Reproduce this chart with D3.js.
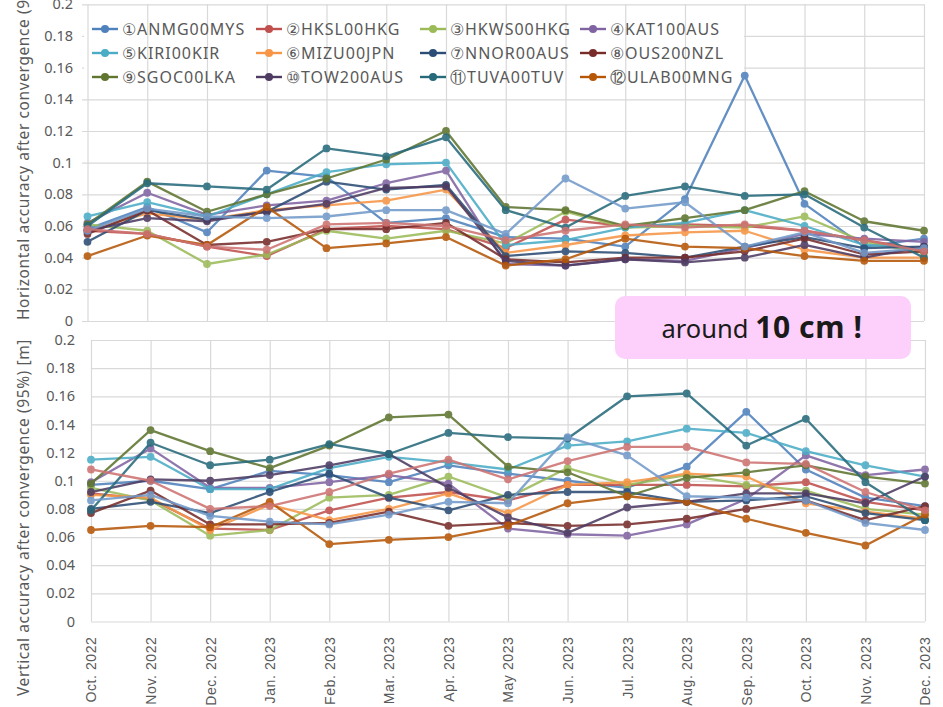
<!DOCTYPE html>
<html>
<head>
<meta charset="utf-8">
<script src="https://cdn.jsdelivr.net/npm/d3@7"></script>
<style>
  html, body { margin: 0; padding: 0; background: #fff; }
  svg { display: block; font-family: "Noto Sans", "Open Sans", sans-serif; }
</style>
</head>
<body>
<svg id="chart" width="943" height="707"></svg>
<script>
// ---- categories & ticks ----
const months = ["Oct. 2022", "Nov. 2022", "Dec. 2022", "Jan. 2023", "Feb. 2023", "Mar. 2023", "Apr. 2023",
                "May 2023", "Jun. 2023", "Jul. 2023", "Aug. 2023", "Sep. 2023", "Oct. 2023", "Nov. 2023", "Dec. 2023"];
const yTicks = [0, 0.02, 0.04, 0.06, 0.08, 0.1, 0.12, 0.14, 0.16, 0.18, 0.2];

// ---- stations (legend shows the first twelve; two more are plotted without entries) ----
const stationLabels = ["①ANMG00MYS", "②HKSL00HKG", "③HKWS00HKG", "④KAT100AUS",
                       "⑤KIRI00KIR", "⑥MIZU00JPN", "⑦NNOR00AUS", "⑧OUS200NZL",
                       "⑨SGOC00LKA", "⑩TOW200AUS", "⑪TUVA00TUV", "⑫ULAB00MNG", null, null];
const stationColors = ["#4F81BD", "#C0504D", "#9BBB59", "#8064A2", "#4BACC6", "#F79646",
                       "#2C4D75", "#772C2A", "#5F7530", "#4D3B62", "#276A7C", "#B65708",
                       "#729ACA", "#CD7371"];

// ---- horizontal accuracy after convergence (95%) [m] ----
const H_ANMG00MYS = [0.058, 0.072, 0.056, 0.095, 0.091, 0.062, 0.065, 0.053, 0.052, 0.047, 0.077, 0.155, 0.074, 0.047, 0.052];
const H_HKSL00HKG = [0.057, 0.055, 0.047, 0.041, 0.058, 0.060, 0.058, 0.046, 0.064, 0.060, 0.061, 0.060, 0.057, 0.051, 0.045];
const H_HKWS00HKG = [0.061, 0.057, 0.036, 0.042, 0.057, 0.052, 0.057, 0.049, 0.069, 0.059, 0.060, 0.059, 0.066, 0.050, 0.043];
const H_KAT100AUS = [0.062, 0.081, 0.067, 0.073, 0.076, 0.087, 0.095, 0.036, 0.035, 0.039, 0.038, 0.046, 0.055, 0.052, 0.050];
const H_KIRI00KIR = [0.066, 0.075, 0.066, 0.080, 0.094, 0.099, 0.100, 0.048, 0.051, 0.059, 0.062, 0.070, 0.060, 0.048, 0.046];
const H_MIZU00JPN = [0.057, 0.068, 0.064, 0.070, 0.073, 0.076, 0.083, 0.043, 0.048, 0.054, 0.056, 0.057, 0.045, 0.040, 0.040];
const H_NNOR00AUS = [0.050, 0.070, 0.064, 0.069, 0.088, 0.083, 0.086, 0.041, 0.044, 0.043, 0.040, 0.047, 0.053, 0.046, 0.047];
const H_OUS200NZL = [0.055, 0.070, 0.048, 0.050, 0.058, 0.058, 0.062, 0.039, 0.037, 0.040, 0.040, 0.044, 0.052, 0.042, 0.044];
const H_SGOC00LKA = [0.061, 0.088, 0.069, 0.080, 0.090, 0.102, 0.120, 0.072, 0.070, 0.060, 0.065, 0.070, 0.082, 0.063, 0.057];
const H_TOW200AUS = [0.057, 0.065, 0.063, 0.069, 0.074, 0.084, 0.085, 0.038, 0.035, 0.039, 0.037, 0.040, 0.048, 0.040, 0.047];
const H_TUVA00TUV = [0.060, 0.087, 0.085, 0.083, 0.109, 0.104, 0.116, 0.070, 0.059, 0.079, 0.085, 0.079, 0.080, 0.059, 0.040];
const H_ULAB00MNG = [0.041, 0.054, 0.048, 0.072, 0.046, 0.049, 0.053, 0.035, 0.039, 0.052, 0.047, 0.046, 0.041, 0.038, 0.038];
const H_S13       = [0.057, 0.071, 0.066, 0.065, 0.066, 0.070, 0.070, 0.055, 0.090, 0.071, 0.075, 0.047, 0.056, 0.043, 0.046];
const H_S14       = [0.058, 0.055, 0.047, 0.045, 0.061, 0.062, 0.060, 0.051, 0.057, 0.061, 0.059, 0.061, 0.057, 0.051, 0.044];

// ---- vertical accuracy after convergence (95%) [m] ----
const V_ANMG00MYS = [0.097, 0.100, 0.094, 0.107, 0.104, 0.099, 0.111, 0.105, 0.100, 0.095, 0.110, 0.149, 0.108, 0.088, 0.082];
const V_HKSL00HKG = [0.091, 0.087, 0.066, 0.065, 0.079, 0.088, 0.092, 0.086, 0.097, 0.097, 0.097, 0.096, 0.099, 0.085, 0.079];
const V_HKWS00HKG = [0.095, 0.086, 0.061, 0.065, 0.088, 0.090, 0.103, 0.088, 0.109, 0.097, 0.104, 0.097, 0.093, 0.080, 0.076];
const V_KAT100AUS = [0.099, 0.123, 0.095, 0.095, 0.099, 0.104, 0.098, 0.066, 0.062, 0.061, 0.069, 0.087, 0.118, 0.104, 0.108];
const V_KIRI00KIR = [0.115, 0.117, 0.094, 0.094, 0.109, 0.117, 0.113, 0.108, 0.125, 0.128, 0.137, 0.134, 0.121, 0.111, 0.103];
const V_MIZU00JPN = [0.090, 0.088, 0.065, 0.083, 0.072, 0.080, 0.091, 0.077, 0.097, 0.099, 0.105, 0.103, 0.084, 0.078, 0.073];
const V_NNOR00AUS = [0.080, 0.085, 0.077, 0.092, 0.105, 0.088, 0.079, 0.090, 0.092, 0.092, 0.085, 0.086, 0.089, 0.077, 0.072];
const V_OUS200NZL = [0.077, 0.093, 0.069, 0.069, 0.070, 0.078, 0.068, 0.070, 0.068, 0.069, 0.073, 0.080, 0.086, 0.072, 0.082];
const V_SGOC00LKA = [0.098, 0.136, 0.121, 0.109, 0.125, 0.145, 0.147, 0.110, 0.106, 0.089, 0.102, 0.106, 0.111, 0.103, 0.098];
const V_TOW200AUS = [0.092, 0.101, 0.100, 0.104, 0.111, 0.119, 0.095, 0.074, 0.063, 0.081, 0.085, 0.091, 0.091, 0.084, 0.103];
const V_TUVA00TUV = [0.079, 0.127, 0.111, 0.115, 0.126, 0.119, 0.134, 0.131, 0.130, 0.160, 0.162, 0.125, 0.144, 0.099, 0.072];
const V_ULAB00MNG = [0.065, 0.068, 0.067, 0.085, 0.055, 0.058, 0.060, 0.068, 0.084, 0.089, 0.085, 0.073, 0.063, 0.054, 0.076];
const V_S13       = [0.086, 0.090, 0.075, 0.071, 0.069, 0.076, 0.085, 0.084, 0.131, 0.118, 0.089, 0.088, 0.086, 0.070, 0.065];
const V_S14       = [0.108, 0.100, 0.080, 0.082, 0.092, 0.105, 0.115, 0.101, 0.114, 0.124, 0.124, 0.113, 0.112, 0.092, 0.079];

const horizontalRows = [H_ANMG00MYS, H_HKSL00HKG, H_HKWS00HKG, H_KAT100AUS, H_KIRI00KIR, H_MIZU00JPN, H_NNOR00AUS,
                        H_OUS200NZL, H_SGOC00LKA, H_TOW200AUS, H_TUVA00TUV, H_ULAB00MNG, H_S13, H_S14];
const verticalRows   = [V_ANMG00MYS, V_HKSL00HKG, V_HKWS00HKG, V_KAT100AUS, V_KIRI00KIR, V_MIZU00JPN, V_NNOR00AUS,
                        V_OUS200NZL, V_SGOC00LKA, V_TOW200AUS, V_TUVA00TUV, V_ULAB00MNG, V_S13, V_S14];

// ---- drawing ----
const svg = d3.select("#chart");
const GRID = "#d9d9d9", INK = "#595959";

const topX = d3.scalePoint().domain(months).range([87.5, 924]);
const topY = d3.scaleLinear().domain([0, 0.2]).range([321, 4.3]);
const botX = d3.scalePoint().domain(months).range([91, 925]);
const botY = d3.scaleLinear().domain([0, 0.2]).range([621.5, 340]);

const fmt = d => String(+d.toFixed(2));

function drawHGrid(g, x, y, left) {
  g.append("g")
    .attr("transform", `translate(${left},0)`)
    .call(d3.axisLeft(y).tickValues(yTicks).tickSize(-(x.range()[1] - left)).tickFormat(""))
    .call(s => s.select(".domain").remove())
    .call(s => s.selectAll("line").attr("stroke", GRID).attr("stroke-width", 1.2));
}
function drawVGrid(g, x, y) {
  g.append("g")
    .attr("transform", `translate(0,${y(0)})`)
    .call(d3.axisBottom(x).tickSize(-(y(0) - y(0.2))).tickFormat(""))
    .call(s => s.select(".domain").remove())
    .call(s => s.selectAll("line").attr("stroke", GRID).attr("stroke-width", 1.2));
}
function drawYLabels(g, y, right) {
  g.append("g")
    .attr("transform", `translate(${right},0)`)
    .call(d3.axisLeft(y).tickValues(yTicks).tickSize(0).tickPadding(0).tickFormat(fmt))
    .call(s => s.select(".domain").remove())
    .call(s => s.selectAll("text").attr("fill", INK).attr("font-size", 14.5)
      .attr("font-family", "'Noto Sans', sans-serif"));
}
function drawSeries(g, x, y, rows) {
  const line = d3.line().x((d, i) => x(months[i])).y(d => y(d));
  rows.forEach((row, k) => {
    const s = g.append("g").attr("opacity", 0.88);
    s.append("path").attr("d", line(row)).attr("fill", "none")
      .attr("stroke", stationColors[k]).attr("stroke-width", 2.3).attr("stroke-linejoin", "round");
    s.selectAll("circle").data(row).join("circle")
      .attr("cx", (d, i) => x(months[i])).attr("cy", d => y(d)).attr("r", 3.9)
      .attr("fill", stationColors[k]);
  });
}

// top panel: horizontal accuracy
const gTop = svg.append("g");
drawHGrid(gTop, topX, topY, 82);
gTop.append("rect").attr("x", 84).attr("y", 13).attr("width", 660).attr("height", 80).attr("fill", "#fff");
drawVGrid(gTop, topX, topY);
drawYLabels(gTop, topY, 73);
drawSeries(gTop, topX, topY, horizontalRows);

// legend (3 rows x 4 columns)
const legendCols = [92, 256, 420, 580];
const legendRows = [29, 53, 77];
const gLeg = svg.append("g");
stationLabels.forEach((label, k) => {
  if (!label) return;
  const cx = legendCols[k % 4], cy = legendRows[Math.floor(k / 4)];
  const item = gLeg.append("g").attr("transform", `translate(${cx},${cy})`);
  item.append("line").attr("x1", 0).attr("x2", 26).attr("stroke", stationColors[k]).attr("stroke-width", 2.4);
  item.append("circle").attr("cx", 13).attr("r", 4).attr("fill", stationColors[k]);
  item.append("text").attr("x", 30).attr("dy", "0.35em").attr("fill", INK)
    .attr("font-size", 16).attr("letter-spacing", 1).text(label);
});

// bottom panel: vertical accuracy
const gBot = svg.append("g");
drawHGrid(gBot, botX, botY, 91);
drawVGrid(gBot, botX, botY);
drawYLabels(gBot, botY, 75);
drawSeries(gBot, botX, botY, verticalRows);

// month labels under the bottom panel
gBot.append("g")
  .attr("transform", `translate(0,${botY(0)})`)
  .call(d3.axisBottom(botX).tickSize(0))
  .call(s => s.select(".domain").remove())
  .call(s => s.selectAll("text")
    .attr("transform", "rotate(-90)").attr("text-anchor", "end")
    .attr("x", -15).attr("y", 0).attr("dy", "0.35em")
    .attr("fill", INK).attr("font-size", 14).attr("letter-spacing", 0.6));

// axis titles
svg.append("text").attr("transform", "translate(29,320) rotate(-90)")
  .attr("text-anchor", "start").attr("fill", INK).attr("font-size", 15.5).attr("letter-spacing", 0.6)
  .text("Horizontal accuracy after convergence (95%) [m]");
svg.append("text").attr("transform", "translate(29,339) rotate(-90)")
  .attr("text-anchor", "end").attr("fill", INK).attr("font-size", 15.5).attr("letter-spacing", 0.6)
  .text("Vertical accuracy after convergence (95%) [m]");

// callout
svg.append("rect").attr("x", 615).attr("y", 296).attr("width", 296).attr("height", 63).attr("rx", 10)
  .attr("fill", "#fdd0fb");
const note = svg.append("text").attr("x", 762).attr("y", 338).attr("text-anchor", "middle")
  .attr("fill", "#1a1a1a");
note.append("tspan").attr("font-size", 25.5).text("around ");
note.append("tspan").attr("font-size", 30).attr("font-weight", "bold").attr("letter-spacing", 0.6).text("10 cm !");
</script>
</body>
</html>
